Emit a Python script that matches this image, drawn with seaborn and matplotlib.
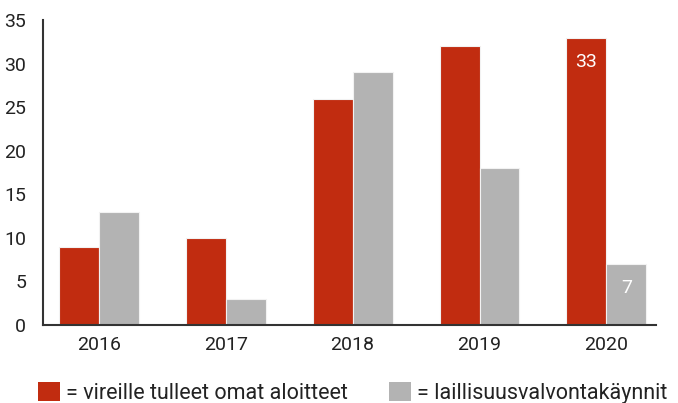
import pandas as pd
import numpy as np
import matplotlib
matplotlib.use("Agg")
import matplotlib.pyplot as plt
import seaborn as sns
from matplotlib.patches import Patch

years = ["2016", "2017", "2018", "2019", "2020"]
omat_aloitteet = [9, 10, 26, 32, 33]
kaynnit = [13, 3, 29, 18, 7]
series_names = ["= vireille tulleet omat aloitteet", "= laillisuusvalvontakäynnit"]
colors = ["#C12C10", "#B3B3B3"]

df = pd.DataFrame({
    "year": years * 2,
    "value": omat_aloitteet + kaynnit,
    "series": [series_names[0]] * len(years) + [series_names[1]] * len(years),
})

sns.set_style("white")
plt.rcParams["font.family"] = ["Roboto", "DejaVu Sans"]

fig = plt.figure(figsize=(6.78, 4.03), dpi=100)
ax = fig.add_axes([0.0634, 0.1935, 0.904, 0.7565])

sns.barplot(data=df, x="year", y="value", hue="series", palette=colors, saturation=1,
            width=0.63, edgecolor="#f2f2f2", linewidth=0.8, ax=ax, legend=False)

ax.set_xlim(-0.44, 4.39)
ax.set_ylim(0, 35)
ax.set_yticks(range(0, 36, 5))
ax.set_xlabel("")
ax.set_ylabel("")
for s in ["top", "right"]:
    ax.spines[s].set_visible(False)
for s in ["left", "bottom"]:
    ax.spines[s].set_color("#333333")
    ax.spines[s].set_linewidth(1.5)
ax.tick_params(axis="both", length=0, labelsize=14, colors="#222222", pad=8)
ax.tick_params(axis="y", pad=12)

# value labels inside the 2020 bars
red_bars = ax.containers[0]
grey_bars = ax.containers[1]
for bar, val in [(red_bars[4], omat_aloitteet[4]), (grey_bars[4], kaynnit[4])]:
    ax.text(bar.get_x() + bar.get_width() / 2, val - 2.8, str(val),
            ha="center", va="center", color="white", fontsize=14)

handles = [Patch(facecolor=c, edgecolor="none") for c in colors]
fig.legend(handles, series_names, loc="lower left", bbox_to_anchor=(0.028, -0.05),
           ncol=2, frameon=False, fontsize=15.5, handlelength=1.0, handleheight=1.0,
           handletextpad=0.3, columnspacing=1.9, labelcolor="#222222")

fig.savefig("out.png", dpi=100)
